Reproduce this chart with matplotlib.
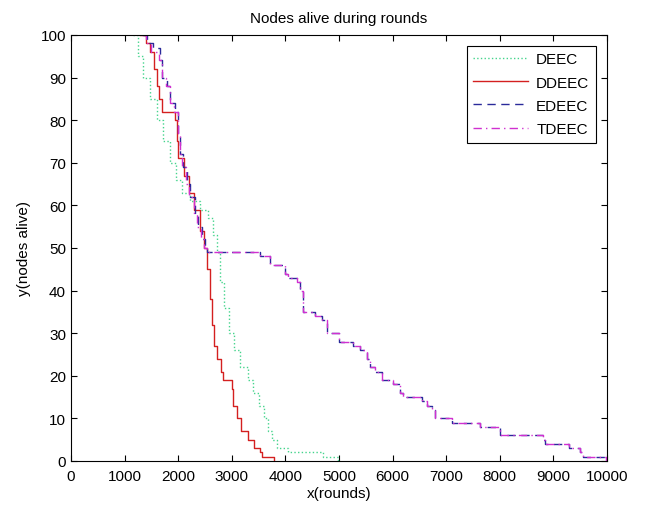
import matplotlib
matplotlib.use("Agg")
import matplotlib.pyplot as plt

plt.rcParams['font.family'] = ['Liberation Sans', 'DejaVu Sans']

# rounds at which the number of alive nodes changes, and the new count
deec_x = [1150, 1250, 1350, 1480, 1600, 1720, 1850, 1960, 2080, 2230, 2400,
          2550, 2650, 2720, 2780, 2850, 2950, 3050, 3150, 3300, 3400, 3500,
          3600, 3680, 3760, 3850, 4050, 4700, 4980, 4990]
deec_y = [100, 95, 90, 85, 80, 75, 70, 66, 63, 61, 59,
          57, 53, 49, 42, 36, 30, 26, 22, 19, 16, 13,
          10, 7, 5, 3, 2, 1, 0, 0]

ddeec_x = [1290, 1400, 1480, 1550, 1600, 1640, 1690, 1940, 1970, 2000,
           2100, 2200, 2300, 2400, 2480, 2540, 2590, 2630, 2660, 2720, 2800,
           2840, 3000, 3020, 3100, 3180, 3300, 3420, 3520, 3560, 3780, 3790]
ddeec_y = [100, 98, 96, 92, 88, 85, 82, 80, 75, 71,
           67, 63, 59, 54, 50, 45, 38, 32, 27, 24, 21,
           19, 17, 13, 10, 7, 5, 3, 2, 1, 0, 0]

edeec_x = [1340, 1420, 1530, 1660, 1700, 1790, 1850, 1940, 2000, 2030,
           2090, 2160, 2220, 2310, 2370, 2440, 2500, 2540, 3530, 3710, 4000,
           4050, 4220, 4270, 4330, 4550, 4680, 4780, 5000, 5260, 5390, 5520,
           5580, 5670, 5800, 6000, 6140, 6190, 6550, 6640, 6735, 6790, 7100,
           7630, 8000, 8800, 8840, 9300, 9500, 9550, 9985, 9995]
edeec_y = [100, 98, 97, 94, 90, 88, 84, 82, 77, 72,
           69, 65, 62, 58, 55, 52, 50, 49, 48, 46, 44,
           43, 42, 40, 35, 34, 33, 30, 28, 27, 26, 24,
           22, 21, 19, 18, 16, 15, 14, 13, 12, 10, 9,
           8, 6, 5, 4, 3, 2, 1, 0, 0]

tdeec_x = [1330, 1400, 1500, 1640, 1690, 1780, 1840, 1930, 1990, 2030,
           2080, 2150, 2210, 2300, 2360, 2430, 2490, 2540, 3530, 3710, 4000,
           4050, 4220, 4270, 4330, 4550, 4680, 4780, 5000, 5260, 5390, 5520,
           5580, 5670, 5800, 6000, 6140, 6190, 6550, 6640, 6735, 6790, 7100,
           7630, 8000, 8800, 8840, 9300, 9500, 9550, 9985, 9995]
tdeec_y = [100, 98, 96, 94, 90, 88, 84, 82, 77, 72,
           69, 65, 62, 58, 55, 52, 50, 49, 48, 46, 44,
           43, 42, 40, 35, 34, 33, 30, 28, 27, 26, 24,
           22, 21, 19, 18, 16, 15, 14, 13, 12, 10, 9,
           8, 6, 5, 4, 3, 2, 1, 0, 0]

fig = plt.figure(figsize=(6.45, 5.06), dpi=100)
ax = fig.add_axes([0.110, 0.087, 0.831, 0.842])

ax.plot(deec_x, deec_y, drawstyle='steps-post', ls=':', color='#44d48c', lw=1.0, label='DEEC')
ax.plot(ddeec_x, ddeec_y, drawstyle='steps-post', ls='-', color='#d42020', lw=1.0, label='DDEEC')
ax.plot(edeec_x, edeec_y, drawstyle='steps-post', ls=(0, (6, 4)), color='#2a2a9a', lw=1.0, label='EDEEC')
ax.plot(tdeec_x, tdeec_y, drawstyle='steps-post', ls=(0, (6, 3, 1, 3)), color='#d030d0', lw=1.0, label='TDEEC')

ax.set_xlim(0, 10000)
ax.set_ylim(0, 100)
ax.set_xticks(range(0, 10001, 1000))
ax.set_yticks(range(0, 101, 10))
ax.tick_params(direction='in', top=True, right=True, labelsize=11, length=4)
ax.tick_params(axis='x', pad=6)
for s in ax.spines.values():
    s.set_linewidth(0.8)

ax.set_title('Nodes alive during rounds', fontsize=11, pad=9)
ax.set_xlabel('x(rounds)', fontsize=11, labelpad=2)
ax.set_ylabel('y(nodes alive)', fontsize=11, labelpad=7)

leg = ax.legend(loc='upper right', fontsize=11, fancybox=False, framealpha=1,
                edgecolor='black', handlelength=3.6, handletextpad=0.5,
                borderaxespad=0.7, labelspacing=0.6, borderpad=0.45)
leg.get_frame().set_linewidth(0.8)

fig.savefig('out.png', dpi=100)
